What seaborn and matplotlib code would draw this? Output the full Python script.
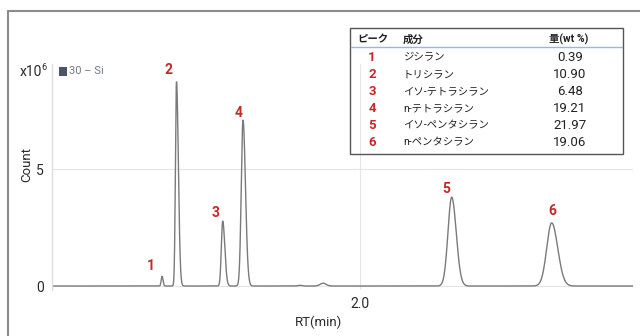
import numpy as np
import pandas as pd
import matplotlib
matplotlib.use("Agg")
import matplotlib.pyplot as plt
from matplotlib.patches import Rectangle
from matplotlib.lines import Line2D
import seaborn as sns

# Peak table
peak_ids = ["1", "2", "3", "4", "5", "6"]
components = ["ジシラン", "トリシラン", "イソ-テトラシラン", "n-テトラシラン", "イソ-ペンタシラン", "n-ペンタシラン"]
amounts = ["0.39", "10.90", "6.48", "19.21", "21.97", "19.06"]

# Chromatogram peaks: retention time (min), height (x10^6 counts), left/right widths (min)
peak_rt = [1.340, 1.3883, 1.5423, 1.610, 2.3057, 2.639]
peak_height = [0.42, 8.73, 2.78, 7.09, 3.80, 2.70]
peak_sigma_l = [0.0028, 0.0035, 0.0045, 0.0058, 0.0125, 0.0165]
peak_sigma_r = [0.0033, 0.0062, 0.0070, 0.0082, 0.0150, 0.0200]

# Minor baseline features
minor_rt = [1.800, 1.877]
minor_height = [0.03, 0.12]
minor_sigma = [0.006, 0.010]

x_min, x_max = 0.9733, 2.910
y_min, y_max = -0.17, 9.49

rt = np.linspace(x_min, x_max, 6000)
signal = np.zeros_like(rt)
for c, h, sl, sr in zip(peak_rt, peak_height, peak_sigma_l, peak_sigma_r):
    s = np.where(rt < c, sl, sr)
    signal += h * np.exp(-0.5 * ((rt - c) / s) ** 2)
for c, h, s in zip(minor_rt, minor_height, minor_sigma):
    signal += h * np.exp(-0.5 * ((rt - c) / s) ** 2)

df = pd.DataFrame({"RT(min)": rt, "Count": signal})

sns.set_theme(style="white")
plt.rcParams["font.family"] = ["Roboto", "Noto Sans CJK JP", "DejaVu Sans"]

W, H = 640, 336
fig = plt.figure(figsize=(W / 100, H / 100), dpi=100)


def fx(px):
    return px / W


def fy(py):
    return 1 - py / H


ax_l, ax_r, ax_t, ax_b = 52, 633, 64, 290
ax = fig.add_axes([fx(ax_l), fy(ax_b), fx(ax_r) - fx(ax_l), fy(ax_t) - fy(ax_b)])
sns.lineplot(data=df, x="RT(min)", y="Count", ax=ax, color="#7a7a7a", linewidth=1.0)

ax.set_xlim(x_min, x_max)
ax.set_ylim(y_min, y_max)
ax.set_xticks([2.0])
ax.set_xticklabels(["2.0"])
ax.set_yticks([0, 5])
ax.set_yticklabels(["0", "5"])
ax.grid(True, color="#e4e4ec", linewidth=0.8)
ax.set_axisbelow(True)
for side in ["top", "right", "bottom"]:
    ax.spines[side].set_visible(False)
ax.spines["left"].set_color("#dcdce2")
ax.spines["left"].set_linewidth(1.0)
ax.tick_params(axis="y", length=3, color="#dcdce2", labelsize=10, labelcolor="#2a2a2a", pad=3)
ax.tick_params(axis="x", length=0, labelsize=10, labelcolor="#2a2a2a", pad=5)

ax.set_xlabel("RT(min)", fontsize=9.5, color="#2a2a2a", va="center", ha="center")
ax.set_ylabel("Count", fontsize=9.5, color="#2a2a2a", va="center", ha="center")
ax.xaxis.set_label_coords((318 - ax_l) / (ax_r - ax_l), (ax_b - 322) / (ax_b - ax_t))
ax.yaxis.set_label_coords((27 - ax_l) / (ax_r - ax_l), (ax_b - 165) / (ax_b - ax_t))

# Peak numbers above each peak
label_offsets = [(-11, 10), (-8, 12), (-7, 8), (-4, 7), (-5, 8), (1, 12)]
for pid, c, h, (dx, dy) in zip(peak_ids, peak_rt, peak_height, label_offsets):
    ax.annotate(pid, (c, h), xytext=(dx, dy), textcoords="offset pixels",
                ha="center", va="center", fontsize=10, fontweight="bold",
                color="#c62828")

# Scale factor and series legend
fig.text(fx(20), fy(71.5), "x10", fontsize=10, color="#2a2a2a", va="center", ha="left")
fig.text(fx(41.5), fy(67), "6", fontsize=6.5, color="#2a2a2a", va="center", ha="left")
fig.patches.append(Rectangle((fx(59), fy(76)), fx(8), fy(67) - fy(76),
                             transform=fig.transFigure, facecolor="#4b5567",
                             edgecolor="none"))
fig.text(fx(69), fy(71.5), "30 – Si", fontsize=8, color="#707785", va="center", ha="left")

# Outer frame
fig.lines.append(Line2D([fx(7.5), fx(7.5)], [0, fy(10.5)], transform=fig.transFigure,
                        color="#8c8c8c", linewidth=1.5))
fig.lines.append(Line2D([fx(7.5), 1], [fy(10.5), fy(10.5)], transform=fig.transFigure,
                        color="#8c8c8c", linewidth=1.5))

# Composition table
fig.patches.append(Rectangle((fx(349.5), fy(154)), fx(623) - fx(349.5), fy(28) - fy(154),
                             transform=fig.transFigure, facecolor="none",
                             edgecolor="#555555", linewidth=1.0))
fig.lines.append(Line2D([fx(351), fx(622)], [fy(47), fy(47)], transform=fig.transFigure,
                        color="#8cbbe6", linewidth=1.0))
fig.text(fx(357), fy(39.5), "ピーク", fontsize=7.5, fontweight="bold", color="#222222",
         va="center", ha="left")
fig.text(fx(403), fy(39.5), "成分", fontsize=7.5, fontweight="bold", color="#222222",
         va="center", ha="left")
fig.text(fx(569), fy(39.5), "量(wt %)", fontsize=7.5, fontweight="bold", color="#222222",
         va="center", ha="center")
row_y = [57.5, 74.5, 91.5, 108.5, 125.5, 142.5]
for pid, comp, amt, y in zip(peak_ids, components, amounts, row_y):
    fig.text(fx(372), fy(y), pid, fontsize=9.5, fontweight="bold", color="#c62828",
             va="center", ha="center")
    fig.text(fx(403), fy(y), comp, fontsize=7.5, color="#222222", va="center", ha="left")
    fig.text(fx(570), fy(y), amt, fontsize=9.5, color="#222222", va="center", ha="center")

fig.savefig("out.png", dpi=100)
